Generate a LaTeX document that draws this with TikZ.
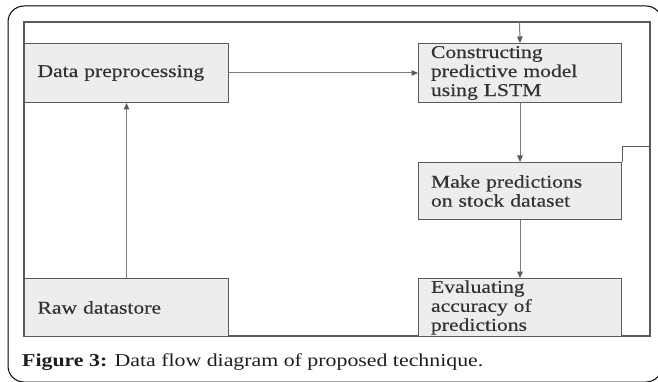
\documentclass[tikz,border=0pt]{standalone}
\usepackage{fontspec}
\setmainfont{Liberation Serif}[FakeStretch=1.2]
\newfontfamily\boxfont{Liberation Serif}[FakeStretch=1.2,FakeBold=0.4]
\usetikzlibrary{arrows.meta}
\definecolor{boxfill}{HTML}{EDEDED}
\definecolor{boxline}{HTML}{5A5A5A}
\definecolor{flowline}{HTML}{7C7C7C}
\definecolor{ink}{HTML}{333333}
\definecolor{capink}{HTML}{1E1E1E}
\begin{document}
\begin{tikzpicture}[x=1pt,y=-1pt,
  procbox/.style={draw=boxline, line width=1pt, fill=boxfill, inner sep=0pt,
    text width=178pt, align=left, text=ink, anchor=north west,
    font=\boxfont\fontsize{18}{19}\selectfont},
  flow/.style={draw=flowline, line width=1pt,
    -{Triangle[length=6.5pt,width=5.5pt,color=boxline]}},
]
\useasboundingbox (0,0) rectangle (658,382);
% outer rounded panel
\draw[line width=1pt, rounded corners=16pt] (8,6) rectangle (662,382);
% diagram frame
\draw[draw=boxline, line width=1.1pt] (24,22) rectangle (650,336);

% process boxes
\node[procbox, minimum width=204pt, minimum height=59pt] (prep) at (24,43) {Data preprocessing};
\node[procbox, minimum width=204pt, minimum height=58pt] (raw) at (24,278) {Raw datastore};
\node[procbox, minimum width=203pt, minimum height=59pt] (model) at (418,43)
  {\raisebox{-3pt}{\parbox{178pt}{Constructing\\predictive model\\using LSTM}}};
\node[procbox, minimum width=203pt, minimum height=57pt] (predict) at (418,162)
  {Make predictions\\on stock dataset};
\node[procbox, minimum width=203pt, minimum height=58pt] (eval) at (418,278)
  {\raisebox{-3pt}{\parbox{178pt}{Evaluating\\accuracy of\\predictions}}};

% data flow
\coordinate (loopin) at (519.5,22);
\coordinate (loopout) at (650,147);
\draw[flow] (raw) -- (prep);
\draw[flow] (prep) -- (model);
\draw[flow] (loopin) -- (model.north);
\draw[flow] (model) -- (predict);
\draw[flow] (predict) -- (eval);
\draw[draw=boxline, line width=1pt] (predict.north east) |- (loopout);

% caption
\node[anchor=base west, inner sep=0pt, text=capink, font=\fontsize{18.2}{20}\selectfont] (cap) at (22,366)
  {\textbf{Figure 3:} Data flow diagram of proposed technique.};
\end{tikzpicture}
\end{document}
